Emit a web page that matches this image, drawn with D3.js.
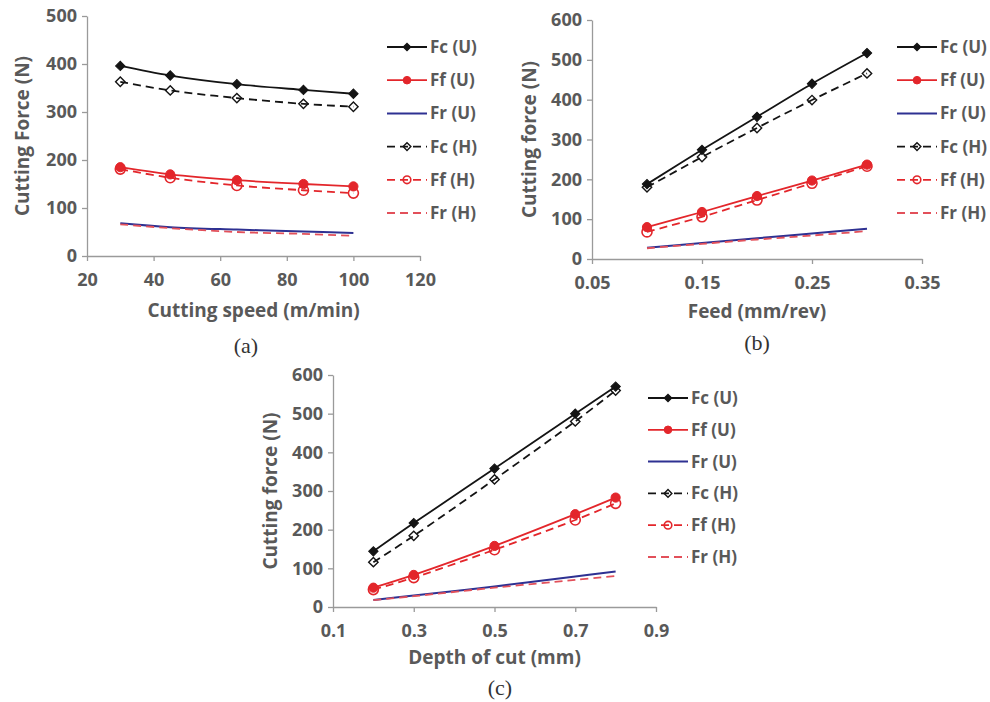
<!DOCTYPE html>
<html>
<head>
<meta charset="utf-8">
<script src="https://cdn.jsdelivr.net/npm/d3@7"></script>
<style>
  body { margin: 0; background: #fff; }
  text { font-family: "Open Sans", sans-serif; }
</style>
</head>
<body>
<script>
// series names (same order in all three charts)
var seriesNames = ["Fc (U)", "Ff (U)", "Fr (U)", "Fc (H)", "Ff (H)", "Fr (H)"];

// (a) cutting speed
var speed = [30, 45, 65, 85, 100];
var speedFcU = [396, 376, 358, 346, 338];
var speedFfU = [185, 170, 158, 150, 145];
var speedFrU = [68, 60, 55, 51, 48];
var speedFcH = [363, 345, 329, 317, 311];
var speedFfH = [181, 163, 147, 137, 131];
var speedFrH = [66, 58, 50, 46, 42];
var speedTicks = [20, 40, 60, 80, 100, 120];
var speedForceTicks = [0, 100, 200, 300, 400, 500];

// (b) feed
var feed = [0.1, 0.15, 0.2, 0.25, 0.3];
var feedFcU = [188, 274, 357, 440, 517];
var feedFfU = [80, 118, 158, 197, 237];
var feedFrU = [28, 40, 52, 64, 76];
var feedFcH = [180, 256, 329, 399, 466];
var feedFfH = [68, 106, 148, 190, 233];
var feedFrH = [27, 38, 49, 59, 70];
var feedTicks = [0.05, 0.15, 0.25, 0.35];

// (c) depth of cut
var depth = [0.2, 0.3, 0.5, 0.7, 0.8];
var depthFcU = [144, 217, 358, 500, 570];
var depthFfU = [50, 83, 158, 240, 283];
var depthFrU = [18, 30, 53, 79, 92];
var depthFcH = [116, 184, 330, 480, 560];
var depthFfH = [45, 76, 148, 225, 268];
var depthFrH = [18, 28, 50, 70, 80];
var depthTicks = [0.1, 0.3, 0.5, 0.7, 0.9];

var forceTicks = [0, 100, 200, 300, 400, 500, 600];

// look of each series, by index
var styles = [
  {color: "#141414", dash: null, marker: "diamond", open: false},
  {color: "#e3262b", dash: null, marker: "circle", open: false},
  {color: "#2e3192", dash: null, marker: null},
  {color: "#141414", dash: "8,5", marker: "diamond", open: true},
  {color: "#e3262b", dash: "8,5", marker: "circle", open: true},
  {color: "#e2505a", dash: "8,5", marker: null}
];

var textColor = "#595959";
var axisColor = "#9a9a9a";

var svg = d3.select("body").append("svg")
  .attr("width", 990)
  .attr("height", 702);

function drawMarker(g, st, cx, cy, big) {
  if (st.marker == "diamond") {
    g.append("path")
      .attr("d", d3.symbol(d3.symbolSquare, big ? 44 : 30)())
      .attr("transform", `translate(${cx},${cy}) rotate(45)`)
      .attr("fill", st.open ? "none" : st.color)
      .attr("stroke", st.color)
      .attr("stroke-width", st.open ? 1.4 : 1);
  } else if (st.marker == "circle") {
    g.append("circle")
      .attr("cx", cx)
      .attr("cy", cy)
      .attr("r", big ? (st.open ? 5 : 4.6) : 3.8)
      .attr("fill", st.open ? "none" : st.color)
      .attr("stroke", st.color)
      .attr("stroke-width", st.open ? 1.6 : 1);
  }
}

function styleAxis(sel) {
  sel.select(".domain").attr("stroke", axisColor).attr("stroke-width", 1.3);
  sel.selectAll(".tick line").attr("stroke", axisColor).attr("stroke-width", 1.3);
  sel.selectAll(".tick text")
    .attr("fill", textColor)
    .style("font-size", "18px")
    .style("font-weight", "700");
}

function drawPanel(p) {
  var x = d3.scaleLinear().domain(p.xDomain).range(p.xRange);
  var y = d3.scaleLinear().domain(p.yDomain).range(p.yRange);
  var g = svg.append("g");

  g.append("g")
    .attr("transform", `translate(0,${p.yRange[0]})`)
    .call(d3.axisBottom(x).tickValues(p.xTicks).tickFormat(p.xFormat).tickSize(5).tickSizeOuter(0).tickPadding(12))
    .call(styleAxis);

  g.append("g")
    .attr("transform", `translate(${p.xRange[0]},0)`)
    .call(d3.axisLeft(y).tickValues(p.yTicks).tickSize(5).tickSizeOuter(0).tickPadding(5))
    .call(styleAxis);

  var line = d3.line()
    .x((d, j) => x(p.xs[j]))
    .y(d => y(d))
    .curve(d3.curveCatmullRom.alpha(0.5));

  p.series.forEach(function(vals, i) {
    var st = styles[i];
    g.append("path")
      .datum(vals)
      .attr("d", line)
      .attr("fill", "none")
      .attr("stroke", st.color)
      .attr("stroke-width", i == 2 ? 2 : 1.8)
      .attr("stroke-dasharray", st.dash);
    vals.forEach(function(v, j) {
      drawMarker(g, st, x(p.xs[j]), y(v), true);
    });
  });

  // axis titles
  g.append("text")
    .attr("x", (p.xRange[0] + p.xRange[1]) / 2)
    .attr("y", p.xTitleY)
    .attr("text-anchor", "middle")
    .attr("fill", textColor)
    .style("font-size", "19px")
    .style("font-weight", "700")
    .text(p.xTitle);

  g.append("text")
    .attr("transform", `translate(${p.yTitleX},${(p.yRange[0] + p.yRange[1]) / 2}) rotate(-90)`)
    .attr("text-anchor", "middle")
    .attr("fill", textColor)
    .style("font-size", "19px")
    .style("font-weight", "700")
    .text(p.yTitle);

  // legend
  var lg = g.append("g");
  seriesNames.forEach(function(name, i) {
    var st = styles[i];
    var ly = p.legendY + i * p.legendStep;
    lg.append("line")
      .attr("x1", p.legendX)
      .attr("x2", p.legendX + 40)
      .attr("y1", ly)
      .attr("y2", ly)
      .attr("stroke", st.color)
      .attr("stroke-width", i == 2 ? 2 : 1.8)
      .attr("stroke-dasharray", st.dash);
    drawMarker(lg, st, p.legendX + 20, ly, false);
    lg.append("text")
      .attr("x", p.legendX + 43)
      .attr("y", ly)
      .attr("dy", "0.35em")
      .attr("fill", textColor)
      .style("font-size", "17px")
      .style("font-weight", "700")
      .text(name);
  });

  // panel letter
  g.append("text")
    .attr("x", p.tagX)
    .attr("y", p.tagY)
    .attr("text-anchor", "middle")
    .attr("fill", "#333")
    .style("font-family", "'Liberation Serif', serif")
    .style("font-size", "22px")
    .text(p.tag);
}

drawPanel({
  xs: speed,
  series: [speedFcU, speedFfU, speedFrU, speedFcH, speedFfH, speedFrH],
  xDomain: [20, 120], xRange: [87, 420],
  yDomain: [0, 500], yRange: [256, 16],
  xTicks: speedTicks, yTicks: speedForceTicks, xFormat: d3.format("d"),
  xTitle: "Cutting speed (m/min)", xTitleY: 317,
  yTitle: "Cutting Force (N)", yTitleX: 29,
  legendX: 387, legendY: 47, legendStep: 33.2,
  tag: "(a)", tagX: 246, tagY: 353
});

drawPanel({
  xs: feed,
  series: [feedFcU, feedFfU, feedFrU, feedFcH, feedFfH, feedFrH],
  xDomain: [0.05, 0.35], xRange: [592, 922],
  yDomain: [0, 600], yRange: [259, 20],
  xTicks: feedTicks, yTicks: forceTicks, xFormat: d3.format(".2f"),
  xTitle: "Feed (mm/rev)", xTitleY: 318,
  yTitle: "Cutting force (N)", yTitleX: 536,
  legendX: 897, legendY: 47, legendStep: 33.2,
  tag: "(b)", tagX: 757, tagY: 350
});

drawPanel({
  xs: depth,
  series: [depthFcU, depthFfU, depthFrU, depthFcH, depthFfH, depthFrH],
  xDomain: [0.1, 0.9], xRange: [333, 656],
  yDomain: [0, 600], yRange: [607, 375],
  xTicks: depthTicks, yTicks: forceTicks, xFormat: d3.format(".1f"),
  xTitle: "Depth of cut (mm)", xTitleY: 664,
  yTitle: "Cutting force (N)", yTitleX: 277,
  legendX: 648, legendY: 398, legendStep: 31.8,
  tag: "(c)", tagX: 500, tagY: 695
});
</script>
</body>
</html>
